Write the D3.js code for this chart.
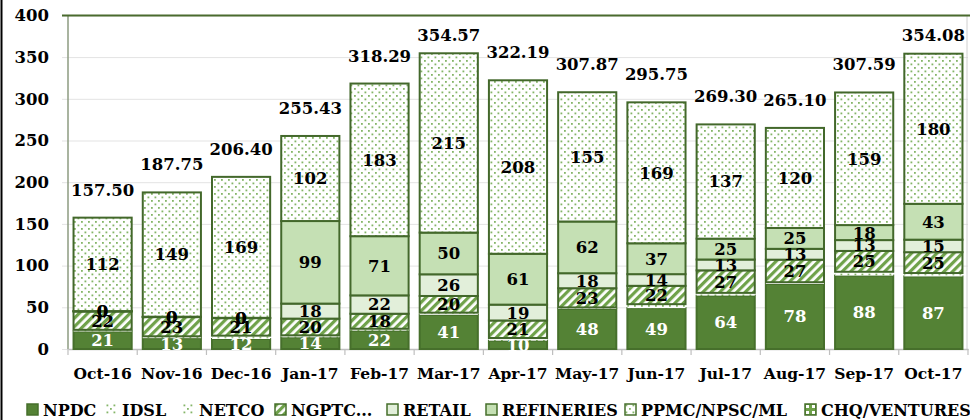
<!DOCTYPE html>
<html>
<head>
<meta charset="utf-8">
<script src="https://cdn.jsdelivr.net/npm/d3@7"></script>
<style>
  body { margin: 0; background: #fff; }
  svg { display: block; font-family: "DejaVu Serif", serif; font-weight: bold; }
</style>
</head>
<body>
<svg id="chart" width="970" height="420"></svg>
<script>
// Monthly values (billions), stacked bottom to top in series order.
const months = ['Oct-16', 'Nov-16', 'Dec-16', 'Jan-17', 'Feb-17', 'Mar-17', 'Apr-17',
                'May-17', 'Jun-17', 'Jul-17', 'Aug-17', 'Sep-17', 'Oct-17'];
const npdc       = [21, 13, 12, 14, 22, 41, 10, 48, 49, 64, 78, 88, 87];
const idsl       = [1.2, 1.3, 2.1, 1.3, 1.2, 1.4, 1.7, 1.0, 2.5, 1.8, 1.1, 2.4, 2.1];
const netco      = [0.8, 0.95, 1.9, 1.13, 1.09, 1.17, 1.49, 0.87, 2.25, 1.5, 1.0, 2.19, 1.98];
const ngptc      = [22, 23, 21, 20, 18, 20, 21, 23, 22, 27, 27, 25, 25];
const retail     = [0.3, 0.2, 0.2, 18, 22, 26, 19, 18, 14, 13, 13, 13, 15];
const refineries = [0.2, 0.3, 0.2, 99, 71, 50, 61, 62, 37, 25, 25, 18, 43];
const ppmc       = [112, 149, 169, 102, 183, 215, 208, 155, 169, 137, 120, 159, 180];
const chq        = [0, 0, 0, 0, 0, 0, 0, 0, 0, 0, 0, 0, 0];
const totals     = [157.50, 187.75, 206.40, 255.43, 318.29, 354.57, 322.19,
                    307.87, 295.75, 269.30, 265.10, 307.59, 354.08];
const yTicks     = [0, 50, 100, 150, 200, 250, 300, 350, 400];

const seriesNames = ['NPDC', 'IDSL', 'NETCO', 'NGPTC...', 'RETAIL', 'REFINERIES',
                     'PPMC/NPSC/ML', 'CHQ/VENTURES'];
const seriesValues = [npdc, idsl, netco, ngptc, retail, refineries, ppmc, chq];

// Look of each series: fill, outline, label colour (null = no value label).
const style = {
  'NPDC':         {fill: '#548235', stroke: '#466f2b', label: '#fff'},
  'IDSL':         {fill: 'url(#dots)', stroke: 'none', label: null},
  'NETCO':        {fill: 'url(#dots)', stroke: 'none', label: null},
  'NGPTC...':     {fill: 'url(#hatch)', stroke: '#43682b', label: '#000'},
  'RETAIL':       {fill: '#e2efda', stroke: '#43682b', label: '#000'},
  'REFINERIES':   {fill: '#c5e0b4', stroke: '#43682b', label: '#000'},
  'PPMC/NPSC/ML': {fill: 'url(#dots)', stroke: '#43682b', label: '#000'},
  'CHQ/VENTURES': {fill: 'url(#chq)', stroke: '#43682b', label: null},
};
const legendX = [27, 106, 183, 275, 387, 486, 625, 805];

const W = 970, H = 420;
const margin = {top: 15.4, right: 2, bottom: 71, left: 68};
const svg = d3.select('#chart');

const rows = months.map((m, i) => {
  const row = {month: m};
  seriesNames.forEach((s, j) => { row[s] = seriesValues[j][i]; });
  return row;
});
const stacked = d3.stack().keys(seriesNames)(rows);

const x = d3.scaleBand().domain(months)
    .range([margin.left, W - margin.right])
    .paddingInner(0.16).paddingOuter(0.08);
const y = d3.scaleLinear().domain([0, 400]).range([H - margin.bottom, margin.top]);

// Patterns.
const defs = svg.append('defs');
const dots = defs.append('pattern').attr('id', 'dots')
    .attr('patternUnits', 'userSpaceOnUse').attr('width', 7).attr('height', 7);
dots.append('rect').attr('width', 7).attr('height', 7).attr('fill', '#fff');
dots.append('rect').attr('x', 0.5).attr('y', 0.5).attr('width', 1.8).attr('height', 1.8).attr('fill', '#84b567');
dots.append('rect').attr('x', 4).attr('y', 4).attr('width', 1.8).attr('height', 1.8).attr('fill', '#84b567');

const hatch = defs.append('pattern').attr('id', 'hatch')
    .attr('patternUnits', 'userSpaceOnUse').attr('width', 6).attr('height', 6)
    .attr('patternTransform', 'rotate(45)');
hatch.append('rect').attr('width', 6).attr('height', 6).attr('fill', '#fff');
hatch.append('rect').attr('width', 3.2).attr('height', 6).attr('fill', '#6fa24a');

const chqPat = defs.append('pattern').attr('id', 'chq')
    .attr('patternUnits', 'userSpaceOnUse').attr('width', 6).attr('height', 6);
chqPat.append('rect').attr('width', 6).attr('height', 6).attr('fill', '#6fa24a');
chqPat.append('rect').attr('x', 1).attr('y', 1).attr('width', 3).attr('height', 3).attr('fill', '#fff');

// Outer frame edge.
svg.append('line').attr('x1', 1.5).attr('x2', 1.5).attr('y1', 0).attr('y2', H)
    .attr('stroke', '#000').attr('stroke-width', 2);

// Gridlines + y labels.
const yAxis = svg.append('g').attr('transform', `translate(${margin.left},0)`)
    .call(d3.axisLeft(y).tickValues(yTicks).tickSize(6).tickPadding(13))
    .call(g => g.select('.domain').remove());
yAxis.selectAll('.tick line').attr('stroke', '#e3e3e3')
    .attr('x1', -6).attr('x2', W - margin.right - margin.left);
yAxis.selectAll('.tick text').attr('font-size', 16.5).attr('fill', '#000')
    .attr('font-family', '"DejaVu Serif", serif').attr('font-weight', 'bold');

// Plot area edges.
svg.append('line').attr('x1', margin.left).attr('x2', margin.left)
    .attr('y1', margin.top).attr('y2', y(0)).attr('stroke', '#8c9b80').attr('stroke-width', 1.5);
svg.append('line').attr('x1', W - 3).attr('x2', W - 3)
    .attr('y1', margin.top).attr('y2', y(0)).attr('stroke', '#d0d0d0');
svg.append('line').attr('x1', margin.left - 6).attr('x2', W)
    .attr('y1', margin.top).attr('y2', margin.top).attr('stroke', '#4a6b2e').attr('stroke-width', 2);

// X axis.
const xAxis = svg.append('g').attr('transform', `translate(0,${y(0)})`)
    .call(d3.axisBottom(x).tickSize(0).tickPadding(19));
xAxis.select('.domain').attr('stroke', '#bfbfbf').attr('stroke-width', 1.5);
xAxis.selectAll('.tick text').attr('font-size', 15.5).attr('fill', '#000')
    .attr('font-family', '"DejaVu Serif", serif').attr('font-weight', 'bold');
const half = x.step() * x.paddingInner() / 2;
const bounds = months.map(m => x(m) - half)
    .concat([x(months[months.length - 1]) + x.bandwidth() + half]);
xAxis.selectAll('.sep').data(bounds).join('line').attr('class', 'sep')
    .attr('x1', d => d).attr('x2', d => d).attr('y1', 0).attr('y2', 6)
    .attr('stroke', '#bfbfbf').attr('stroke-width', 1.2);

// Bars.
const layers = svg.append('g').selectAll('g').data(stacked).join('g');
layers.selectAll('rect').data(d => d.map(p => ({p, key: d.key}))).join('rect')
    .attr('x', d => x(d.p.data.month))
    .attr('width', x.bandwidth())
    .attr('y', d => y(d.p[1]))
    .attr('height', d => Math.max(0, y(d.p[0]) - y(d.p[1])))
    .attr('fill', d => style[d.key].fill)
    .attr('stroke', d => style[d.key].stroke)
    .attr('stroke-width', 2);

// Segment labels.
const labelled = stacked.filter(s => style[s.key].label);
svg.append('g').selectAll('g').data(labelled).join('g')
  .selectAll('text').data(d => d.map(p => ({p, key: d.key}))).join('text')
    .attr('x', d => x(d.p.data.month) + x.bandwidth() / 2)
    .attr('y', d => (y(d.p[0]) + y(d.p[1])) / 2)
    .attr('dy', '0.36em')
    .attr('text-anchor', 'middle')
    .attr('font-size', 16.5)
    .attr('fill', d => style[d.key].label)
    .text(d => d3.format('.0f')(d.p[1] - d.p[0]));

// Totals above the bars (kept below the top of the plot).
svg.append('g').selectAll('text').data(totals).join('text')
    .attr('x', (d, i) => x(months[i]) + x.bandwidth() / 2)
    .attr('y', d => Math.max(y(d) - 22, 41))
    .attr('text-anchor', 'middle')
    .attr('font-size', 16.5)
    .text(d => d3.format('.2f')(d));

// Legend.
const legend = svg.append('g').selectAll('g').data(seriesNames).join('g')
    .attr('transform', (d, i) => `translate(${legendX[i]},404)`);
legend.append('rect').attr('width', 11).attr('height', 11)
    .attr('fill', d => style[d].fill)
    .attr('stroke', d => style[d].stroke === 'none' ? 'none' : '#466f2b')
    .attr('stroke-width', 1.5);
legend.append('text').attr('x', 16).attr('y', 12).attr('font-size', 16).text(d => d);
</script>
</body>
</html>
